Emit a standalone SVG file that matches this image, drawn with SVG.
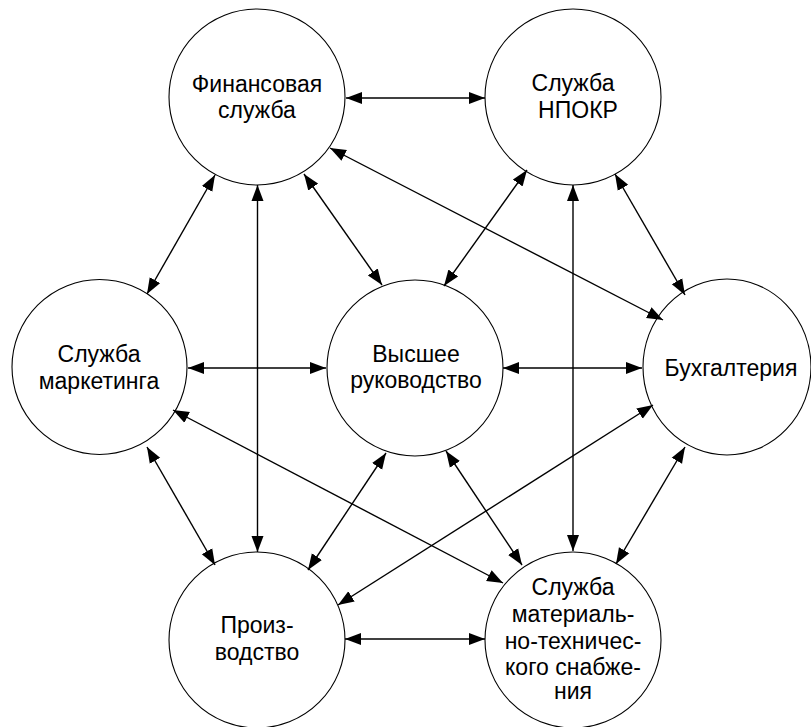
<svg xmlns="http://www.w3.org/2000/svg" width="811" height="727" viewBox="0 0 811 727">
<style>
.node{fill:#fff;stroke:#000;stroke-width:1.1}
.t{font-family:"Liberation Sans",Arial,sans-serif;font-size:23px;fill:#000;text-anchor:middle}
.c line{stroke:#000;stroke-width:1.4;marker-start:url(#a);marker-end:url(#a)}
</style>
<defs>
<marker id="a" markerUnits="userSpaceOnUse" markerWidth="17" markerHeight="13" refX="16" refY="6" orient="auto-start-reverse" viewBox="0 0 17 12">
<path d="M0,0 L16,6 L0,12 z" fill="#000"/>
</marker>
</defs>
<rect width="811" height="727" fill="#fff"/>
<g id="fin"><circle class="node" cx="257" cy="97" r="88"/><text class="t" x="257" y="92">Финансовая</text><text class="t" x="257" y="118">служба</text></g>
<g id="npokr"><circle class="node" cx="573" cy="97" r="88"/><text class="t" x="573" y="91">Служба</text><text class="t" x="578" y="118">НПОКР</text></g>
<g id="mark"><circle class="node" cx="99.5" cy="367" r="87.5"/><text class="t" x="99" y="362">Служба</text><text class="t" x="99" y="389">маркетинга</text></g>
<g id="vys"><circle class="node" cx="415" cy="368" r="88"/><text class="t" x="416" y="362">Высшее</text><text class="t" x="416" y="388">руководство</text></g>
<g id="buh"><ellipse class="node" cx="727" cy="367" rx="84" ry="88"/><text class="t" x="731" y="376">Бухгалтерия</text></g>
<g id="proiz"><circle class="node" cx="257" cy="640" r="88"/><text class="t" x="257" y="633">Произ-</text><text class="t" x="257" y="660">водство</text></g>
<g id="mts"><circle class="node" cx="573" cy="640" r="88"/><text class="t" x="573" y="595">Служба</text><text class="t" x="573" y="622">материаль-</text><text class="t" x="573" y="649">но-техничес-</text><text class="t" x="573" y="675">кого снабже-</text><text class="t" x="573" y="699">ния</text></g>
<g class="c" id="connectors">
<line x1="346" y1="98" x2="485" y2="98"/>
<line x1="215" y1="175" x2="147" y2="294"/>
<line x1="257.5" y1="185" x2="257.5" y2="552"/>
<line x1="304" y1="174" x2="382" y2="285"/>
<line x1="330" y1="148" x2="663" y2="320"/>
<line x1="527" y1="170" x2="444" y2="286"/>
<line x1="573" y1="185" x2="573" y2="551"/>
<line x1="615" y1="174" x2="685" y2="295"/>
<line x1="188" y1="368" x2="326" y2="368"/>
<line x1="147" y1="447" x2="215" y2="565"/>
<line x1="173" y1="410" x2="503" y2="583"/>
<line x1="503" y1="368" x2="642" y2="368"/>
<line x1="386" y1="453" x2="308" y2="570"/>
<line x1="446" y1="451" x2="522" y2="565"/>
<line x1="653" y1="405" x2="338" y2="605"/>
<line x1="685" y1="447" x2="616" y2="564"/>
<line x1="345" y1="639" x2="485" y2="639"/>
</g>
</svg>
